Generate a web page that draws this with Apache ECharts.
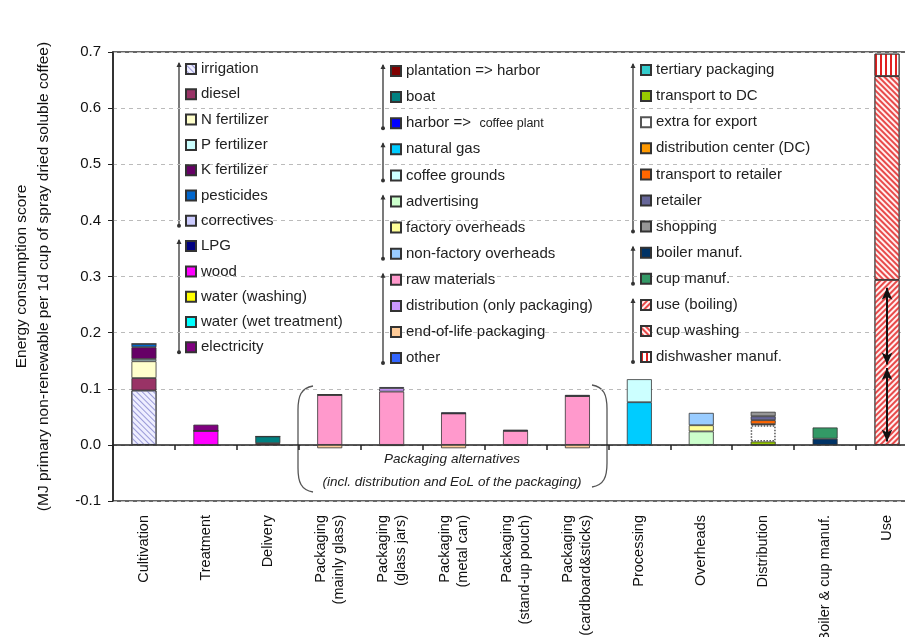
<!DOCTYPE html>
<html>
<head>
<meta charset="utf-8">
<script src="https://cdn.jsdelivr.net/npm/echarts@6/dist/echarts.min.js"></script>
<style>html,body{margin:0;padding:0;background:#fff}#chart{width:905px;height:637px}</style>
</head>
<body>
<div id="chart"></div>
<script>
// categories on the x axis
var categories = ['Cultivation', 'Treatment', 'Delivery', 'Packaging\n(mainly glass)', 'Packaging\n(glass jars)',
    'Packaging\n(metal can)', 'Packaging\n(stand-up pouch)', 'Packaging\n(cardboard&sticks)', 'Processing',
    'Overheads', 'Distribution', 'Boiler & cup manuf.', 'Use'];

// components of each stage (legend order = stacking order)
var cultivationNames = ['irrigation', 'diesel', 'N fertilizer', 'P fertilizer', 'K fertilizer', 'pesticides', 'correctives'];
var cultivation = [0.097, 0.022, 0.030, 0.004, 0.021, 0.006, 0.000];
var treatmentNames = ['LPG', 'wood', 'water (washing)', 'water (wet treatment)', 'electricity'];
var treatment = [0.000, 0.025, 0.000, 0.000, 0.011];
var deliveryNames = ['plantation => harbor', 'boat', 'harbor => coffee plant'];
var delivery = [0.003, 0.012, 0.000];
var processingNames = ['natural gas', 'coffee grounds'];
var processing = [0.076, 0.041];
var overheadsNames = ['advertising', 'factory overheads', 'non-factory overheads'];
var overheads = [0.024, 0.011, 0.022];
// packaging: one value per packaging alternative (5 bars)
var packagingNames = ['raw materials', 'distribution (only packaging)', 'end-of-life packaging', 'other'];
var pkgRaw = [0.089, 0.095, 0.056, 0.025, 0.087];
var pkgDistribution = [0.000, 0.006, 0.000, 0.000, 0.000];
var pkgEol = [-0.006, -0.002, -0.006, -0.001, -0.006];
var pkgOther = [0.001, 0.002, 0.002, 0.002, 0.002];
var distributionNames = ['tertiary packaging', 'transport to DC', 'extra for export', 'distribution center (DC)',
    'transport to retailer', 'retailer', 'shopping'];
var distribution = [0.000, 0.006, 0.029, 0.002, 0.007, 0.007, 0.008];
var boilerCupNames = ['boiler manuf.', 'cup manuf.'];
var boilerCup = [0.011, 0.020];
var useNames = ['use (boiling)', 'cup washing', 'dishwasher manuf.'];
var useStage = [0.294, 0.363, 0.040];

var colors = {
    'irrigation': '#eeeeff', 'diesel': '#993366', 'N fertilizer': '#ffffcc', 'P fertilizer': '#ccffff',
    'K fertilizer': '#660066', 'pesticides': '#0066cc', 'correctives': '#ccccff',
    'LPG': '#000080', 'wood': '#ff00ff', 'water (washing)': '#ffff00', 'water (wet treatment)': '#00ffff',
    'electricity': '#800080', 'plantation => harbor': '#800000', 'boat': '#008080',
    'harbor => coffee plant': '#0000ff', 'natural gas': '#00ccff', 'coffee grounds': '#ccffff',
    'advertising': '#ccffcc', 'factory overheads': '#ffff99', 'non-factory overheads': '#99ccff',
    'raw materials': '#ff99cc', 'distribution (only packaging)': '#cc99ff', 'end-of-life packaging': '#ffcc99',
    'other': '#3366ff', 'tertiary packaging': '#33cccc', 'transport to DC': '#99cc00', 'extra for export': '#ffffff',
    'distribution center (DC)': '#ff9900', 'transport to retailer': '#ff6600', 'retailer': '#666699',
    'shopping': '#969696', 'boiler manuf.': '#003366', 'cup manuf.': '#339966',
    'use (boiling)': '#fff0f0', 'cup washing': '#fff0f0', 'dishwasher manuf.': '#ffffff'
};
var decals = {
    'irrigation': {symbol: 'rect', symbolSize: 1, dashArrayX: [1, 0], dashArrayY: [1, 3], rotation: Math.PI / 4, color: '#9a9ad8'},
    'use (boiling)': {symbol: 'rect', symbolSize: 1, dashArrayX: [1, 0], dashArrayY: [1.5, 2], rotation: -Math.PI / 4, color: '#e84a4a'},
    'cup washing': {symbol: 'rect', symbolSize: 1, dashArrayX: [1, 0], dashArrayY: [1.5, 2], rotation: Math.PI / 4, color: '#e84a4a'},
    'dishwasher manuf.': {symbol: 'rect', symbolSize: 1, dashArrayX: [2, 3], dashArrayY: [1, 0], color: '#e02020'}
};

var series = [];
function addSeries(name, startIndex, values) {
    var data = categories.map(function (c, k) {
        var i = k - startIndex;
        return (i >= 0 && i < values.length) ? values[i] : null;
    });
    var s = {
        name: name, type: 'bar', stack: 'total', barWidth: 25, data: data,
        itemStyle: {color: colors[name], borderColor: '#333', borderWidth: 0.8}
    };
    if (decals[name]) s.itemStyle.decal = decals[name];
    if (name === 'extra for export') {
        s.itemStyle.borderType = 'dotted';
        s.itemStyle.borderColor = '#555';
        s.itemStyle.borderWidth = 1.5;
    }
    series.push(s);
    return s;
}
function addGroup(names, values, catIndex) {
    names.forEach(function (n, i) { addSeries(n, catIndex, [values[i]]); });
}
addGroup(cultivationNames, cultivation, 0);
addGroup(treatmentNames, treatment, 1);
addGroup(deliveryNames, delivery, 2);
addSeries(packagingNames[0], 3, pkgRaw);
addSeries(packagingNames[1], 3, pkgDistribution);
addSeries(packagingNames[2], 3, pkgEol);
addSeries(packagingNames[3], 3, pkgOther);
addGroup(processingNames, processing, 8);
addGroup(overheadsNames, overheads, 9);
addGroup(distributionNames, distribution, 10);
addGroup(boilerCupNames, boilerCup, 11);
addGroup(useNames, useStage, 12);

// double arrows inside the Use bar
series[series.length - 3].markLine = {
    silent: true, symbol: ['arrow', 'arrow'], symbolSize: [8, 12], label: {show: false},
    lineStyle: {color: '#111', width: 2, type: 'solid'},
    data: [
        [{coord: [12, 0.28]}, {coord: [12, 0.143]}],
        [{coord: [12, 0.137]}, {coord: [12, 0.006]}]
    ]
};

var col1 = cultivationNames.concat(treatmentNames);
var col2 = deliveryNames.concat(processingNames, overheadsNames, packagingNames);
var col3 = distributionNames.concat(boilerCupNames, useNames);

var font = 'Liberation Sans, Arial, sans-serif';
function legendCol(names, left, top, gap) {
    return {
        data: names, orient: 'vertical', left: left, top: top, itemGap: gap,
        itemWidth: 10, itemHeight: 10, icon: 'rect', selectedMode: false, padding: 0,
        textStyle: {fontFamily: font, fontSize: 15, color: '#222', lineHeight: 16, rich: {s: {fontSize: 12.5, fontFamily: font, color: '#222'}}},
        formatter: function (name) {
            return name === 'harbor => coffee plant' ? 'harbor =>  {s|coffee plant}' : name;
        }
    };
}

// bracket marks that group the legend entries
var graphics = [];
function bracket(x, top, step, first, last) {
    var y1 = top + 8 + first * step - 6;
    var y2 = top + 8 + last * step + 5;
    graphics.push({type: 'line', shape: {x1: x, y1: y1, x2: x, y2: y2}, style: {stroke: '#333', lineWidth: 1.3}});
    graphics.push({type: 'polygon', shape: {points: [[x - 2.5, y1 + 4], [x + 2.5, y1 + 4], [x, y1 - 1]]}, style: {fill: '#333'}});
    graphics.push({type: 'circle', shape: {cx: x, cy: y2, r: 2}, style: {fill: '#333'}});
}
bracket(179, 61, 25.3, 0, 6);
bracket(179, 61, 25.3, 7, 11);
bracket(383, 63, 26.1, 0, 2);
bracket(383, 63, 26.1, 3, 4);
bracket(383, 63, 26.1, 5, 7);
bracket(383, 63, 26.1, 8, 11);
bracket(633, 62, 26.1, 0, 6);
bracket(633, 62, 26.1, 7, 8);
bracket(633, 62, 26.1, 9, 11);

// packaging alternatives annotation: rounded brackets
function paren(xEdge, xBulge, yTop, yBottom) {
    var st = {stroke: '#555', lineWidth: 1.3, fill: null};
    graphics.push({type: 'bezierCurve', shape: {x1: xEdge, y1: yTop, cpx1: xBulge + (xEdge - xBulge) * 0.2, cpy1: yTop + 2,
        cpx2: xBulge, cpy2: yTop + 10, x2: xBulge, y2: yTop + 24}, style: st});
    graphics.push({type: 'line', shape: {x1: xBulge, y1: yTop + 24, x2: xBulge, y2: yBottom - 24}, style: st});
    graphics.push({type: 'bezierCurve', shape: {x1: xBulge, y1: yBottom - 24, cpx1: xBulge, cpy1: yBottom - 10,
        cpx2: xBulge + (xEdge - xBulge) * 0.2, cpy2: yBottom - 2, x2: xEdge, y2: yBottom}, style: st});
}
paren(313, 298, 386, 492);
paren(592, 607, 385, 487);
graphics.push({type: 'text', x: 452, y: 459, style: {text: 'Packaging alternatives', font: 'italic 13.5px ' + font,
    fill: '#222', align: 'center', verticalAlign: 'middle'}});
graphics.push({type: 'text', x: 452, y: 482, style: {text: '(incl. distribution and EoL of the packaging)',
    font: 'italic 13.5px ' + font, fill: '#222', align: 'center', verticalAlign: 'middle'}});

var chart = echarts.init(document.getElementById('chart'));
chart.setOption({
    animation: false,
    textStyle: {fontFamily: font},
    grid: {left: 113, width: 805, top: 52, bottom: 136, outerBoundsMode: 'none', containLabel: false,
        show: true, borderColor: '#333', borderWidth: 1.5, backgroundColor: 'transparent'},
    legend: [legendCol(col1, 185, 61, 9.3), legendCol(col2, 390, 63, 10.1), legendCol(col3, 640, 62, 10.1)],
    xAxis: [
        {
            type: 'category', data: categories, position: 'bottom',
            axisLine: {onZero: true, lineStyle: {color: '#222', width: 1.5}},
            axisTick: {show: true, interval: 0, length: 5, lineStyle: {color: '#222', width: 1.5}},
            axisLabel: {show: false}
        },
        {
            type: 'category', data: categories, position: 'bottom',
            axisLine: {show: false, onZero: false}, axisTick: {show: false},
            axisLabel: {rotate: 90, margin: 14, fontSize: 14.5, color: '#111', fontFamily: font, lineHeight: 18, interval: 0}
        }
    ],
    yAxis: {
        type: 'value', min: -0.1, max: 0.7, interval: 0.1,
        name: 'Energy consumption score\n(MJ primary non-renewable per 1d cup of spray dried soluble coffee)',
        nameLocation: 'middle', nameRotate: 90, nameGap: 58,
        nameTextStyle: {fontSize: 15.5, color: '#111', fontFamily: font, lineHeight: 22},
        axisLine: {show: true, lineStyle: {color: '#222', width: 1.5}},
        axisTick: {show: true, length: 5, lineStyle: {color: '#222'}},
        axisLabel: {fontSize: 15, color: '#111', margin: 12, formatter: function (v) { return v.toFixed(1); }},
        splitLine: {show: true, lineStyle: {color: '#bbb', type: [4, 4], width: 1}}
    },
    graphic: graphics,
    series: series
});
</script>
</body>
</html>
